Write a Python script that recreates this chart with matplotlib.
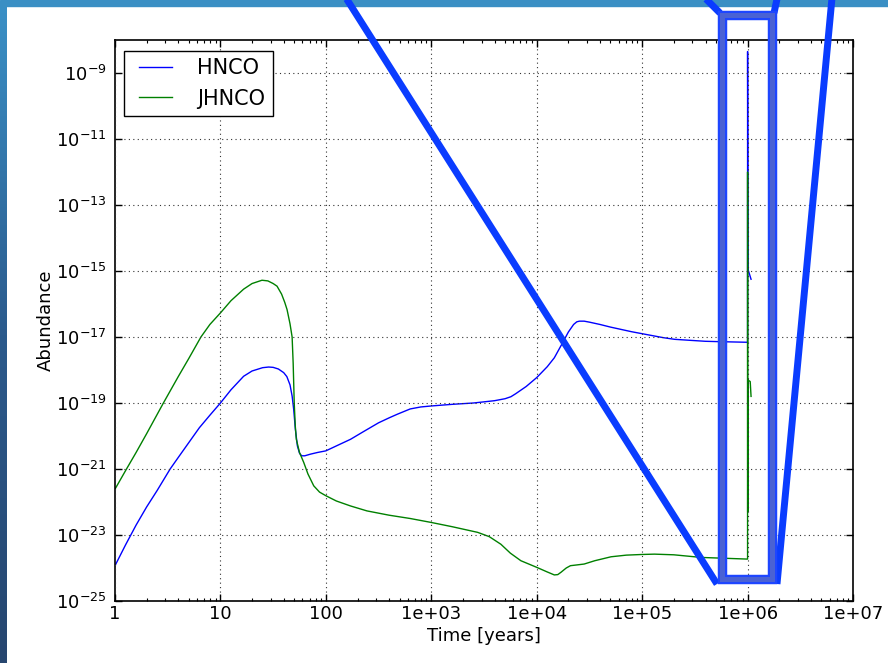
import numpy as np
import matplotlib
matplotlib.use("Agg")
import matplotlib.pyplot as plt
from matplotlib.lines import Line2D
from matplotlib.patches import Rectangle
from matplotlib.colors import LinearSegmentedColormap
from matplotlib.legend_handler import HandlerLine2D
from matplotlib.ticker import FixedLocator, FixedFormatter, NullLocator, LogLocator

# ---------------- data ----------------
# log10(time / years) and log10(abundance)
hnco_logt = [0.0, 0.1, 0.2, 0.3, 0.4, 0.523, 0.6, 0.7, 0.8, 0.9, 1.0, 1.1, 1.22, 1.3,
             1.4, 1.457, 1.5, 1.55, 1.6, 1.63, 1.66, 1.68, 1.695, 1.711, 1.73, 1.75,
             1.77, 1.8, 1.854, 1.92, 2.0, 2.1, 2.234, 2.35, 2.5, 2.6, 2.678, 2.8, 2.9,
             3.0, 3.2, 3.4, 3.6, 3.7, 3.755, 3.8, 3.9, 4.0, 4.1, 4.167, 4.25, 4.3,
             4.35, 4.38, 4.405, 4.45, 4.5, 4.6, 4.7, 4.8, 4.9, 5.0, 5.1, 5.2, 5.307,
             5.45, 5.6, 5.719, 6.0,
             6.0002, 6.004, 6.033]
hnco_loga = [-23.93, -23.3, -22.7, -22.15, -21.65, -21.0, -20.65, -20.2, -19.75, -19.37,
             -19.0, -18.6, -18.19, -18.03, -17.93, -17.91, -17.92, -17.97, -18.08,
             -18.2, -18.45, -18.79, -19.2, -19.8, -20.3, -20.52, -20.6, -20.6, -20.55,
             -20.5, -20.45, -20.3, -20.1, -19.88, -19.6, -19.45, -19.34, -19.18,
             -19.12, -19.09, -19.04, -19.0, -18.93, -18.87, -18.81, -18.72, -18.5,
             -18.23, -17.9, -17.63, -17.15, -16.85, -16.62, -16.54, -16.52, -16.52,
             -16.55, -16.62, -16.7, -16.77, -16.84, -16.9, -16.96, -17.02, -17.07,
             -17.1, -17.13, -17.14, -17.16,
             -8.35, -14.95, -15.25]

jhnco_logt = [0.0, 0.1, 0.2, 0.3, 0.459, 0.6, 0.7, 0.815, 0.9, 1.0, 1.1, 1.22, 1.3,
              1.394, 1.45, 1.5, 1.537, 1.58, 1.61, 1.632, 1.66, 1.68, 1.69, 1.70, 1.71,
              1.72, 1.75, 1.79, 1.83, 1.885, 1.94, 2.0, 2.1, 2.234, 2.39, 2.6, 2.8,
              3.0, 3.2, 3.44, 3.55, 3.66, 3.75, 3.85, 4.0, 4.1, 4.167, 4.2, 4.23, 4.28,
              4.32, 4.373, 4.45, 4.55, 4.705, 4.85, 5.0, 5.117, 5.3, 5.561, 6.0,
              6.0002, 6.001, 6.002, 6.025, 6.033]
jhnco_loga = [-21.61, -21.05, -20.5, -19.93, -19.0, -18.2, -17.65, -17.0, -16.62, -16.27,
              -15.9, -15.55, -15.38, -15.28, -15.3, -15.38, -15.46, -15.7, -15.95,
              -16.17, -16.6, -17.0, -17.8, -19.0, -19.7, -20.1, -20.5, -20.8, -21.15,
              -21.51, -21.7, -21.81, -21.97, -22.12, -22.27, -22.4, -22.5, -22.62,
              -22.75, -22.92, -23.05, -23.28, -23.55, -23.78, -23.98, -24.12, -24.21,
              -24.2, -24.13, -24.0, -23.93, -23.91, -23.88, -23.78, -23.66, -23.61,
              -23.59, -23.58, -23.6, -23.68, -23.73,
              -12.0, -22.3, -18.3, -18.35, -18.8]

series_names = ["HNCO", "JHNCO"]
series_colors = ["#0000ff", "#008000"]

x_tick_values = [1, 10, 100, 1e3, 1e4, 1e5, 1e6, 1e7]
x_tick_labels = ["1", "10", "100", "1e+03", "1e+04", "1e+05", "1e+06", "1e+07"]
y_tick_exps = [-25, -23, -21, -19, -17, -15, -13, -11, -9]

# ---------------- figure ----------------
W, H = 888, 663
fig = plt.figure(figsize=(W / 100, H / 100), dpi=100, facecolor="white")

def fx(px):
    return px / W

def fy(py):
    return 1 - py / H

ax_l, ax_r, ax_t, ax_b = 115, 853, 40, 601
ax = fig.add_axes([fx(ax_l), fy(ax_b), fx(ax_r - ax_l), (ax_b - ax_t) / H])

for lt, la, name, col in [(hnco_logt, hnco_loga, series_names[0], series_colors[0]),
                          (jhnco_logt, jhnco_loga, series_names[1], series_colors[1])]:
    ax.plot(10.0 ** np.array(lt), 10.0 ** np.array(la), color=col, lw=1.0, label=name)

ax.set_xscale("log")
ax.set_yscale("log")
ax.set_xlim(1, 1e7)
ax.set_ylim(1e-25, 1e-8)

ax.xaxis.set_major_locator(FixedLocator(x_tick_values))
ax.xaxis.set_major_formatter(FixedFormatter(x_tick_labels))
ax.xaxis.set_minor_locator(LogLocator(base=10, subs=np.arange(2, 10), numticks=20))
ax.xaxis.set_minor_formatter(FixedFormatter([]))

ax.yaxis.set_major_locator(FixedLocator([10.0 ** e for e in y_tick_exps]))
ax.yaxis.set_major_formatter(FixedFormatter([r"$10^{%d}$" % e for e in y_tick_exps]))
ax.yaxis.set_minor_locator(NullLocator())

ax.tick_params(which="both", direction="in", top=True, right=True, labelsize=13,
               colors="black")
ax.tick_params(which="major", length=5, width=1)
ax.tick_params(which="minor", length=2.5, width=0.8)
ax.tick_params(axis="x", pad=3)
ax.tick_params(axis="y", pad=6)

ax.set_axisbelow(False)
ax.grid(True, which="major", color="0.2", linestyle=(0, (1, 3)), linewidth=0.8)
for s in ax.spines.values():
    s.set_linewidth(1.2)
    s.set_color("black")

ax.set_xlabel("Time [years]", fontsize=13, labelpad=3)
ax.set_ylabel("Abundance", fontsize=13, labelpad=1)


class ShiftedLineHandler(HandlerLine2D):
    """Legend line drawn shifted to the right inside its slot."""
    def __init__(self, shift, **kw):
        super().__init__(**kw)
        self.shift = shift

    def create_artists(self, legend, orig_handle, xdescent, ydescent, width, height,
                       fontsize, trans):
        return super().create_artists(legend, orig_handle,
                                      xdescent - self.shift * fontsize, ydescent,
                                      width, height, fontsize, trans)


fs = 15
leg = ax.legend(loc="upper left",
                bbox_to_anchor=((124 - ax_l) / (ax_r - ax_l), 1 - (51 - ax_t) / (ax_b - ax_t)),
                borderaxespad=0, fontsize=fs, fancybox=False, framealpha=1,
                edgecolor="black", handlelength=1.54, handletextpad=1.62,
                borderpad=0.36, labelspacing=0.49,
                handler_map={Line2D: ShiftedLineHandler(0.38)})
leg.get_frame().set_linewidth(1.0)

# ---------------- screenshot frame decoration ----------------
fig.patches.append(Rectangle((0, fy(6)), 1, 6 / H, transform=fig.transFigure,
                             color="#3a8fc4", zorder=5))
gax = fig.add_axes([0, 0, fx(7), fy(6)])
grad = np.linspace(0, 1, 256).reshape(-1, 1)
cm = LinearSegmentedColormap.from_list("bar", ["#3a90c6", "#2b5a8c", "#27466f"])
gax.imshow(grad, aspect="auto", cmap=cm)
gax.set_axis_off()

# ---------------- overlaid zoom annotation ----------------
ann_col = "#0a3cff"
def seg(p0, p1, lw=5.0, col=ann_col):
    fig.lines.append(Line2D([fx(p0[0]), fx(p1[0])], [fy(p0[1]), fy(p1[1])],
                            transform=fig.transFigure, color=col, lw=lw,
                            solid_capstyle="butt", zorder=10))

seg((346, -2), (717, 584))
seg((706, -1), (720, 13))
seg((777, -1), (774, 13))
seg((832, -2), (777, 584))
rx0, ry0, rx1, ry1 = 721.5, 14.5, 771.5, 579
for lw, col in [(6.8, "#1e46ff"), (3.6, "#4a62d4")]:
    fig.patches.append(Rectangle((fx(rx0), fy(ry1)), fx(rx1 - rx0), (ry1 - ry0) / H,
                                 transform=fig.transFigure, fill=False,
                                 edgecolor=col, lw=lw, zorder=11, joinstyle="miter"))

fig.savefig("out.png", dpi=100, facecolor="white")
